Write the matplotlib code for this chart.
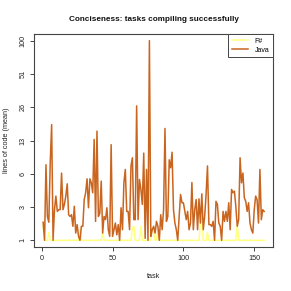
import numpy as np
import matplotlib
matplotlib.use("Agg")
import matplotlib.pyplot as plt

plt.rcParams['font.family'] = ['Liberation Sans', 'DejaVu Sans']

title = "Conciseness: tasks compiling successfully"
x_label = "task"
y_label = "lines of code (mean)"
y_ticks = [1, 3, 6, 13, 26, 51, 100]
x_ticks = [0, 50, 100, 150]

java = [1.82, 1.0, 7.4, 2.2, 1.82, 7.7, 18.1, 1.0, 2.75, 3.77,
        2.6, 2.75, 2.75, 6.1, 2.75, 3.17, 3.77, 4.87, 2.33, 2.2,
        2.33, 1.59, 3.05, 1.27, 1.68, 1.14, 1.0, 1.59, 1.59, 3.51,
        4.04, 5.4, 2.93, 5.4, 4.97, 4.04, 13.3, 1.87, 15.8, 2.2,
        2.45, 5.15, 1.27, 2.2, 1.98, 2.93, 1.42, 1.14, 11.8, 1.14,
        1.42, 1.77, 1.2, 1.68, 1.0, 2.93, 1.42, 4.97, 6.63, 2.6,
        2.6, 1.42, 7.2, 8.7, 1.98, 1.98, 26.7, 1.98, 5.33, 4.33,
        3.17, 9.7, 1.07, 6.63, 1.0, 100.0, 1.14, 1.42, 1.59, 1.27,
        1.87, 1.59, 1.0,
        2.33, 1.42, 2.75, 16.7, 1.87, 2.2, 8.3, 6.9, 9.9, 2.75,
        1.77, 1.42, 1.0, 2.2, 3.9, 3.28, 3.28, 2.6, 1.98, 2.6,
        1.42, 1.77, 5.0, 1.42, 2.75, 3.51, 1.42, 3.56, 1.77, 3.95,
        1.42, 2.2, 3.9, 7.2, 1.68, 1.68, 1.59, 1.87, 1.0, 3.38,
        3.17, 1.77, 1.59, 1.0, 2.6, 1.87, 2.6, 1.87, 3.28, 1.42,
        4.33, 4.04, 4.18, 3.05, 1.59, 1.98, 8.7, 4.97, 6.1, 3.64,
        3.38, 2.6, 3.28, 1.77, 1.42, 1.27, 2.75, 3.77, 3.51, 1.77,
        6.63, 1.98, 2.75, 2.6]

fsharp_spikes = {1: 1.6, 5: 1.3, 27: 1.5, 43: 1.3, 64: 1.5, 65: 1.6, 70: 1.6,
                 78: 1.5, 79: 1.3, 82: 1.4, 112: 1.8, 113: 2.1, 117: 1.3,
                 138: 1.7}
tasks = list(range(1, len(java) + 1))
fsharp = [fsharp_spikes.get(t, 1.0) for t in tasks]

logt = np.log(np.array(y_ticks, dtype=float))
idx = np.arange(len(y_ticks), dtype=float)


def fwd(y):
    y = np.asarray(y, dtype=float)
    ly = np.log(np.clip(y, 1e-6, None))
    out = np.interp(ly, logt, idx)
    lo = ly < logt[0]
    hi = ly > logt[-1]
    out = np.where(lo, (ly - logt[0]) / (logt[1] - logt[0]), out)
    out = np.where(hi, idx[-1] + (ly - logt[-1]) / (logt[-1] - logt[-2]), out)
    return out


def inv(v):
    v = np.asarray(v, dtype=float)
    ly = np.interp(v, idx, logt)
    ly = np.where(v < 0, logt[0] + v * (logt[1] - logt[0]), ly)
    ly = np.where(v > idx[-1], logt[-1] + (v - idx[-1]) * (logt[-1] - logt[-2]), ly)
    return np.exp(ly)


fig = plt.figure(figsize=(2.91, 2.91), dpi=100)
ax = fig.add_axes([34.3 / 291, 1 - 247 / 291, (273 - 34.3) / 291, (247 - 34) / 291])

ax.plot(tasks, fsharp, color="#FFFF80", lw=1.1, label="F#")
ax.plot(tasks, java, color="#C9651F", lw=1.1, label="Java")

ax.set_yscale('function', functions=(fwd, inv))
n = len(tasks)
pad = 0.04 * (n - 1)
ax.set_xlim(1 - pad, n + pad)
ax.set_ylim(float(inv(-0.2)), float(inv(6.2)))

ax.set_yticks(y_ticks)
ax.set_yticklabels([str(v) for v in y_ticks], rotation=90, va='center')
ax.set_xticks(x_ticks)
ax.set_xticklabels([str(v) for v in x_ticks])
ax.yaxis.set_minor_locator(matplotlib.ticker.NullLocator())
ax.xaxis.set_minor_locator(matplotlib.ticker.NullLocator())

for s in ax.spines.values():
    s.set_color('#444444')
    s.set_linewidth(0.8)
ax.tick_params(axis='both', length=3, width=0.7, color='#444444',
               labelsize=5.2, labelcolor='#222222', pad=2.5)

ax.set_xlabel(x_label, fontsize=5.2, color='#222222', labelpad=8)
ax.set_ylabel(y_label, fontsize=5.2, color='#222222', labelpad=7)
ax.set_title(title, fontsize=5.9, fontweight='bold', color='#111111', pad=9.5)

leg = ax.legend(loc='upper right', borderaxespad=0, fancybox=False,
                edgecolor='#444444', framealpha=1, fontsize=5.0,
                handlelength=2.4, borderpad=0.55, labelspacing=0.25,
                handletextpad=0.9)
leg.get_frame().set_linewidth(0.7)

fig.savefig("out.png", dpi=100)
